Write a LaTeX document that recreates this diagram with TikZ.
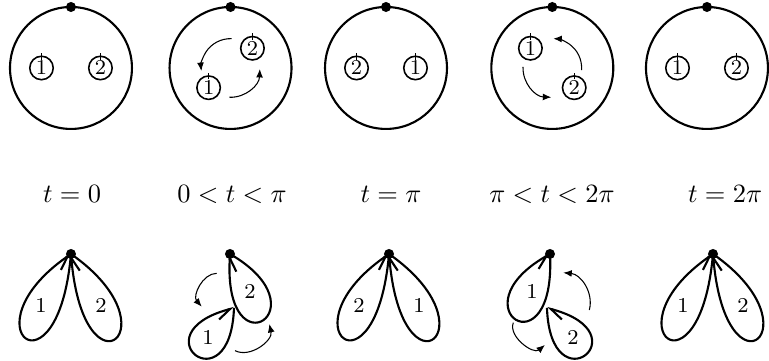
\documentclass[tikz,border=0pt]{standalone}
\usetikzlibrary{arrows.meta, calc}

\begin{document}
\begin{tikzpicture}[
    disk/.style={draw, circle, thick, minimum size=1.622cm, inner sep=0pt, outer sep=0pt},
    puncture/.style={draw, circle, semithick, minimum size=0.312cm, inner sep=0pt, outer sep=0pt, font=\footnotesize},
    marktick/.style={thin},
    basept/.style={fill, circle, inner sep=0pt, minimum size=3.8pt},
    petallabel/.style={font=\footnotesize},
    swirl/.style={thin, -{Latex[length=3.2pt,width=2.6pt]}},
    petal/.style={thick, -{Straight Barb[harpoon, swap, length=5pt, width=5.5pt]}},
    petalccw/.style={thick, -{Straight Barb[harpoon, length=5pt, width=5.5pt]}}
]
\useasboundingbox (0,0) rectangle (10.228,-4.801);

% discs with their base points
\foreach \i/\x in {1/0.944, 2/3.066, 3/5.134, 4/7.346, 5/9.403} {
  \node[disk] (d\i) at (\x,-0.904) {};
  \node[basept] (b\i) at (d\i.north) {};
}

% the two marked points in each disc
\foreach \i/\a in {1/180, 2/222, 3/0, 4/138, 5/180} {
  \node[puncture] (one\i) at ($(d\i.center)+(\a:0.392)$) {1};
  \node[puncture] (two\i) at ($(d\i.center)+(\a+180:0.392)$) {2};
  \draw[marktick] ([yshift=-1.3pt]one\i.north) -- ([yshift=1.3pt]one\i.north);
  \draw[marktick] ([yshift=-1.3pt]two\i.north) -- ([yshift=1.3pt]two\i.north);
}

% rotation arrows
\draw[swirl] ($(d2.center)+(88:0.39)$) arc[start angle=88, end angle=186, radius=0.39];
\draw[swirl] ($(d2.center)+(268:0.39)$) arc[start angle=268, end angle=358, radius=0.39];
\draw[swirl] ($(d4.center)+(-4:0.39)$) arc[start angle=-4, end angle=88, radius=0.39];
\draw[swirl] ($(d4.center)+(178:0.39)$) arc[start angle=178, end angle=268, radius=0.39];

% time labels
\node[anchor=base] (lab1) at (0.958,-2.70) {$t=0$};
\node[anchor=base] (lab2) at (3.086,-2.70) {$0<t<\pi$};
\node[anchor=base] (lab3) at (5.200,-2.70) {$t=\pi$};
\node[anchor=base] (lab4) at (7.342,-2.70) {$\pi<t<2\pi$};
\node[anchor=base] (lab5) at (9.643,-2.70) {$t=2\pi$};

% loops at the base point
\foreach \i/\x in {1/0.944, 2/3.059, 3/5.174, 4/7.315, 5/9.483}
  \coordinate (q\i) at (\x,-3.378);

\foreach \i in {1,3,5} {
  \draw[petal] (q\i) .. controls +(-95:1.995) and +(-145:1.729) .. (q\i);
  \draw[petal] (q\i) .. controls +(-35:1.729) and +(-85:1.995) .. (q\i);
}
\node[petallabel] (l1a) at ($(q1)+(-0.40,-0.68)$) {1};
\node[petallabel] (l1b) at ($(q1)+(0.40,-0.68)$) {2};
\node[petallabel] (l3a) at ($(q3)+(-0.40,-0.68)$) {2};
\node[petallabel] (l3b) at ($(q3)+(0.40,-0.68)$) {1};
\node[petallabel] (l5a) at ($(q5)+(-0.40,-0.68)$) {1};
\node[petallabel] (l5b) at ($(q5)+(0.40,-0.68)$) {2};

% half way round
\coordinate (a2) at ($(q2)+(0.053,-0.718)$);
\draw[petal] (q2) .. controls +(-30:1.463) and +(-93:1.596) .. (q2);
\draw[petal] (a2) .. controls +(-92:1.33) and +(-165:1.33) .. (a2);
\node[petallabel] (l2a) at ($(q2)+(0.266,-0.505)$) {2};
\node[petallabel] (l2b) at ($(q2)+(-0.293,-1.104)$) {1};
\coordinate (s2a) at ($(q2)+(-0.177,-0.257)$);
\coordinate (e2a) at ($(q2)+(-0.376,-0.701)$);
\coordinate (s2b) at ($(q2)+(0.067,-1.286)$);
\coordinate (e2b) at ($(q2)+(0.523,-0.931)$);
\draw[swirl] (s2a) to[bend right=65] (e2a);
\draw[swirl] (s2b) to[bend right=65] (e2b);

\coordinate (a4) at ($(q4)+(-0.04,-0.718)$);
\draw[petal] (q4) .. controls +(-87:1.596) and +(-150:1.463) .. (q4);
\draw[petalccw] (a4) .. controls +(-88:1.33) and +(-15:1.33) .. (a4);
\node[petallabel] (l4a) at ($(q4)+(-0.239,-0.505)$) {1};
\node[petallabel] (l4b) at ($(q4)+(0.306,-1.104)$) {2};
\coordinate (s4a) at ($(q4)+(0.523,-0.745)$);
\coordinate (e4a) at ($(q4)+(0.177,-0.249)$);
\coordinate (s4b) at ($(q4)+(-0.488,-0.914)$);
\coordinate (e4b) at ($(q4)+(-0.067,-1.210)$);
\draw[swirl] (s4a) to[bend right=50] (e4a);
\draw[swirl] (s4b) to[bend right=75] (e4b);

\foreach \i in {1,...,5}
  \node[basept] (bp\i) at (q\i) {};
\end{tikzpicture}
\end{document}
